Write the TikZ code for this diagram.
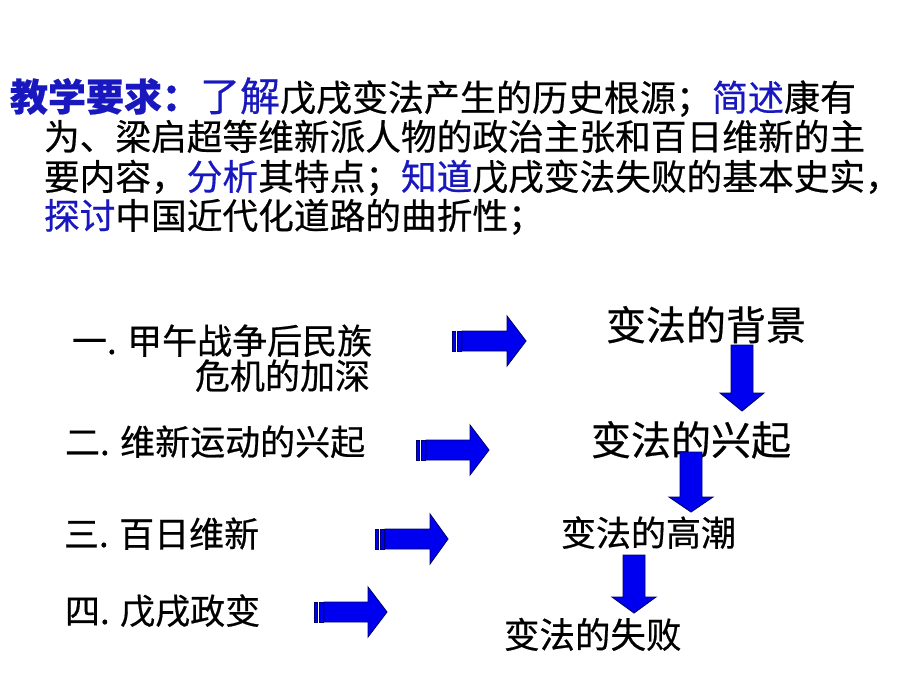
\documentclass[tikz,border=0pt]{standalone}
\usepackage{fontspec}
\setmainfont{Noto Sans CJK SC}[FakeBold=0.5]
\definecolor{hl}{RGB}{24,24,190}
\definecolor{arrfill}{RGB}{0,0,240}
\definecolor{arrline}{RGB}{0,0,110}
\tikzset{
  txt/.style={anchor=base west, inner sep=0pt, outer sep=0pt, text=black},
  arr/.style={fill=arrfill, draw=arrline, line width=0.9pt, line join=miter},
}
% striped right arrow: #1 left x, #2 center y, #3 head base x, #4 tip x
\newcommand\stripedarrow[4]{%
  \path[arr] (#1,#2-10) rectangle (#1+3,#2+10);
  \path[arr] (#1+5,#2-10) rectangle (#1+9,#2+10);
  \path[arr] (#1+10,#2-10) -- (#3,#2-10) -- (#3,#2-25) -- (#4,#2) -- (#3,#2+25) -- (#3,#2+10) -- (#1+10,#2+10) -- cycle;
}
% down arrow: #1 center x, #2 top y, #3 head base y, #4 tip y
\newcommand\downblockarrow[4]{%
  \path[arr] (#1-11,#2) -- (#1+11,#2) -- (#1+11,#3) -- (#1+22,#3) -- (#1,#4) -- (#1-22,#3) -- (#1-11,#3) -- cycle;
}
\begin{document}
\begin{tikzpicture}[x=1pt,y=-1pt]
\useasboundingbox (0,0) rectangle (920,690);
\fill[white] (0,0) rectangle (920,690);
% requirements text
\node[txt] (r1) at (10,111) {{\fontsize{38}{38}\selectfont\bfseries\color{hl}教学要求：}{\fontsize{40}{40}\selectfont\color{hl}了解}{\fontsize{36}{36}\selectfont 戊戌变法产生的历史根源；{\color{hl}简述}康有}};
\node[txt] (r2) at (44,150) {\fontsize{35.7}{36}\selectfont 为、梁启超等维新派人物的政治主张和百日维新的主};
\node[txt] (r3) at (44,190) {\fontsize{35.7}{36}\selectfont 要内容，{\color{hl}分析}其特点；{\color{hl}知道}戊戌变法失败的基本史实，};
\node[txt] (r4) at (44,229) {\fontsize{35.7}{36}\selectfont {\color{hl}探讨}中国近代化道路的曲折性；};
% left list
\node[txt] (l1) at (72,354) {\fontsize{35}{35}\selectfont 一. 甲午战争后民族};
\node[txt] (l1b) at (195,389) {\fontsize{35}{35}\selectfont 危机的加深};
\node[txt] (l2) at (65,455) {\fontsize{35}{35}\selectfont 二. 维新运动的兴起};
\node[txt] (l3) at (64,547) {\fontsize{35}{35}\selectfont 三. 百日维新};
\node[txt] (l4) at (65,624) {\fontsize{35}{35}\selectfont 四. 戊戌政变};
% right chain
\node[txt] (c1) at (606,340) {\fontsize{40}{40}\selectfont 变法的背景};
\node[txt] (c2) at (591,455) {\fontsize{40}{40}\selectfont 变法的兴起};
\node[txt] (c3) at (561,546) {\fontsize{35}{35}\selectfont 变法的高潮};
\node[txt] (c4) at (504,648) {\fontsize{35.5}{35}\selectfont 变法的失败};
% striped arrows
\stripedarrow{452}{341}{507}{526}
\stripedarrow{416}{450}{470}{489}
\stripedarrow{375}{539}{430}{448}
\stripedarrow{314}{612}{368}{387}
% down arrows
\downblockarrow{742}{345}{393}{411}
\downblockarrow{691}{452}{497}{512}
\downblockarrow{634}{555}{597}{613}
\end{tikzpicture}
\end{document}
